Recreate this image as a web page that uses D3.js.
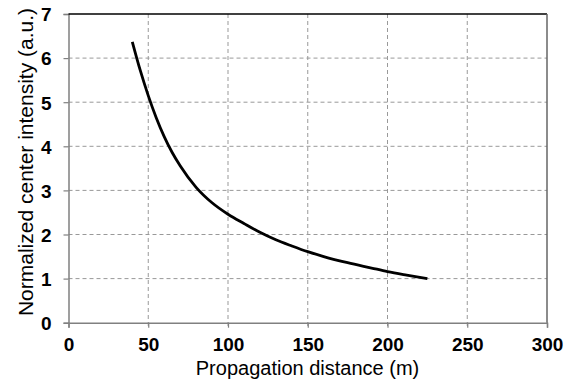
<!DOCTYPE html>
<html><head><meta charset="utf-8">
<script src="https://cdn.jsdelivr.net/npm/d3@7/dist/d3.min.js"></script>
<style>body{margin:0;background:#fff}svg{display:block}</style>
</head><body><svg id="c" width="572" height="380"></svg>
<script>
// Data
const distance = [40, 45, 50, 55, 60, 65, 70, 80, 90, 100, 110, 120, 130, 140, 150, 160, 175, 190, 200, 212, 225];
const intensity = [6.37, 5.72, 5.15, 4.65, 4.22, 3.86, 3.56, 3.07, 2.72, 2.46, 2.25, 2.05, 1.88, 1.74, 1.61, 1.5, 1.36, 1.24, 1.16, 1.08, 1.0];
const xTicks = [0, 50, 100, 150, 200, 250, 300];
const yTicks = [0, 1, 2, 3, 4, 5, 6, 7];
const xTitle = "Propagation distance (m)";
const yTitle = "Normalized center intensity (a.u.)";

const svg = d3.select("#c");
const L = 68.5, R = 547, T = 14, B = 322.7;
const x = d3.scaleLinear().domain([0, 300]).range([L, R]);
const y = d3.scaleLinear().domain([0, 7]).range([B, T]);
const font = "Arial, 'Liberation Sans', sans-serif";

// grid
const g = svg.append("g");
g.selectAll(".gx").data(xTicks.filter(d => d > 0 && d < 300)).join("line")
  .attr("x1", d => x(d)).attr("x2", d => x(d)).attr("y1", T).attr("y2", B + 5)
  .attr("stroke", "#999").attr("stroke-dasharray", "4,3").attr("stroke-width", 1);
g.selectAll(".gy").data(yTicks.filter(d => d > 0 && d < 7)).join("line")
  .attr("x1", L).attr("x2", R).attr("y1", d => y(d)).attr("y2", d => y(d))
  .attr("stroke", "#999").attr("stroke-dasharray", "4,3").attr("stroke-width", 1);

// axes
const xAxis = d3.axisBottom(x).tickValues(xTicks).tickSize(5).tickPadding(10).tickFormat(d3.format("d"));
const yAxis = d3.axisLeft(y).tickValues(yTicks).tickSize(5).tickPadding(12).tickFormat(d3.format("d"));
const gx = svg.append("g").attr("transform", `translate(0,${B})`).call(xAxis);
const gy = svg.append("g").attr("transform", `translate(${L},0)`).call(yAxis);
[gx, gy].forEach(a => {
  a.select(".domain").attr("stroke", "#808080").attr("stroke-width", 1.5);
  a.selectAll(".tick line").attr("stroke", "#808080").attr("stroke-width", 1.2);
  a.selectAll(".tick text").attr("font-family", font).attr("font-weight", "bold")
    .attr("font-size", 19).attr("fill", "#000");
});
gx.selectAll(".tick text").attr("dy", "0.71em");
gy.selectAll(".tick text").attr("dy", "0.36em");

// top & right borders
svg.append("line").attr("x1", L).attr("x2", R).attr("y1", T).attr("y2", T).attr("stroke", "#000").attr("stroke-width", 1.5);
svg.append("line").attr("x1", R).attr("x2", R).attr("y1", T).attr("y2", B).attr("stroke", "#666").attr("stroke-width", 1.5);

// curve
const line = d3.line().x((d, i) => x(distance[i])).y(d => y(d)).curve(d3.curveMonotoneX);
svg.append("path").datum(intensity).attr("d", line).attr("fill", "none")
  .attr("stroke", "#000").attr("stroke-width", 2.8).attr("stroke-linecap", "butt");

// titles
svg.append("text").attr("x", 307.5).attr("y", 375).attr("text-anchor", "middle")
  .attr("font-family", font).attr("font-size", 20).attr("fill", "#000").text(xTitle);
svg.append("text").attr("transform", `translate(33,162) rotate(-90)`).attr("text-anchor", "middle")
  .attr("font-family", font).attr("font-size", 21).attr("fill", "#000").text(yTitle);
</script></body></html>
